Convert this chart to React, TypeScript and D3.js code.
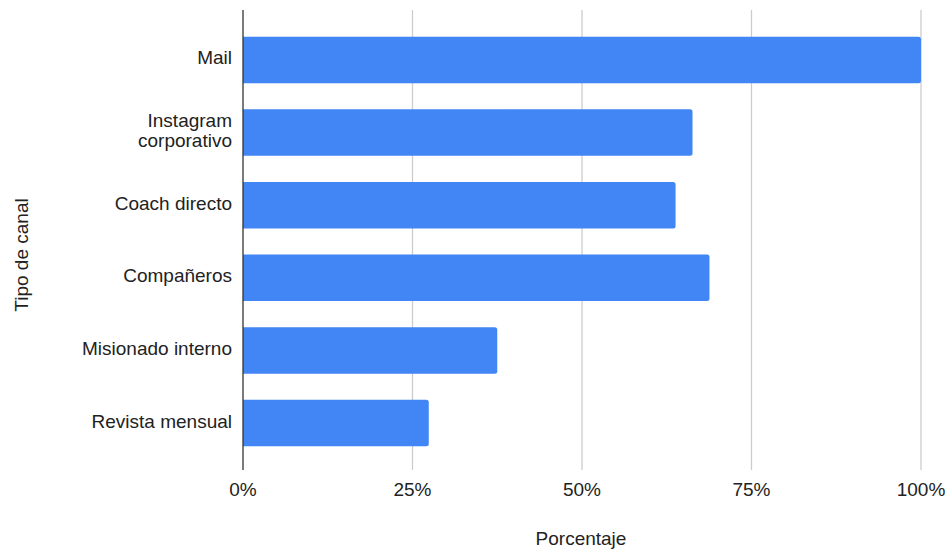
import React from "react";
import * as d3 from "d3";

const categories = ["Mail", "Instagram corporativo", "Coach directo", "Compañeros", "Misionado interno", "Revista mensual"];
const labelLines = [["Mail"], ["Instagram", "corporativo"], ["Coach directo"], ["Compañeros"], ["Misionado interno"], ["Revista mensual"]];
const values = [1.0, 0.663, 0.638, 0.688, 0.375, 0.274];
const ticks = [0, 0.25, 0.5, 0.75, 1];
const xTitle = "Porcentaje";
const yTitle = "Tipo de canal";

export default function App() {
  const W = 949, H = 552;
  const left = 243, right = 921, top = 10, bottom = 470;
  const x = d3.scaleLinear().domain([0, 1]).range([left, right]);
  const y = d3.scaleBand<string>().domain(categories).range([top + 1.5, bottom + 1.5]).paddingInner(0.36).paddingOuter(0.348);
  const font = "'Liberation Sans', Arial, Helvetica, sans-serif";
  const fmt = d3.format(".0%");
  const fs = 19;
  const r = 2.5;
  const barPath = (x0: number, x1: number, y0: number, h: number) =>
    `M${x0},${y0} H${x1 - r} Q${x1},${y0} ${x1},${y0 + r} V${y0 + h - r} Q${x1},${y0 + h} ${x1 - r},${y0 + h} H${x0} Z`;
  return (
    <svg width={W} height={H} style={{ position: "absolute", left: 0, top: 0, background: "#fff" }} fontFamily={font}>
      {ticks.filter((t) => t > 0).map((t) => (
        <line key={t} x1={x(t)} x2={x(t)} y1={top} y2={bottom} stroke="#cccccc" strokeWidth={1.3} />
      ))}
      {categories.map((c, i) => (
        <path key={c} d={barPath(x(0), x(values[i]), y(c)!, y.bandwidth())} fill="#4285F4" />
      ))}
      <line x1={x(0)} x2={x(0)} y1={top} y2={bottom} stroke="#333333" strokeWidth={1.3} />
      {categories.map((c, i) => {
        const cy = y(c)! + y.bandwidth() / 2;
        const lines = labelLines[i];
        const lh = 20;
        return (
          <text key={c} x={232} textAnchor="end" fontSize={fs} fill="#222">
            {lines.map((l, j) => (
              <tspan key={j} x={232} y={cy + 4.5 + (j - (lines.length - 1) / 2) * lh}>{l}</tspan>
            ))}
          </text>
        );
      })}
      {ticks.map((t) => (
        <text key={t} x={x(t)} y={496} textAnchor="middle" fontSize={fs} fill="#222">{fmt(t)}</text>
      ))}
      <text x={(left + right) / 2 - 1} y={545} textAnchor="middle" fontSize={fs} fill="#222">{xTitle}</text>
      <text transform={`translate(28,255) rotate(-90)`} textAnchor="middle" fontSize={fs} fill="#222">{yTitle}</text>
    </svg>
  );
}
